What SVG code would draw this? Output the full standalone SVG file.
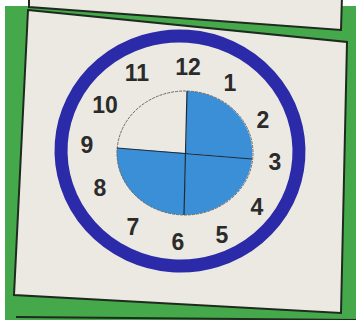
<svg xmlns="http://www.w3.org/2000/svg" width="356" height="320" viewBox="0 0 356 320">
<style>
.num{font-family:"Liberation Sans",Arial,sans-serif;font-weight:bold;font-size:23px;fill:#2b2b2b;text-anchor:middle}
.paper{fill:#ebe9e2;stroke:#1f2a1f;stroke-width:2}
</style>
<rect x="0" y="0" width="356" height="320" fill="#ffffff"/>
<rect x="5" y="6" width="351" height="314" fill="#45a94c"/>
<polygon class="paper" points="29,-4 342,-4 341,30 29,7"/>
<polygon class="paper" points="28,10 347,42 341,313 14,295"/>
<line x1="16" y1="317" x2="356" y2="320" stroke="#1f2a1f" stroke-width="2"/>
<g id="ring">
<ellipse cx="180" cy="151" rx="119" ry="115" fill="none" stroke="#2b2aa8" stroke-width="13" transform="rotate(4 180 151)"/>
</g>
<g id="face">
<path d="M186,153 L187,91 A68,62 0 0 1 252,159 Z" fill="#3b8fd6"/>
<path d="M186,153 L252,159 A68,62 0 0 1 184,215 Z" fill="#3b8fd6"/>
<path d="M186,153 L184,215 A68,62 0 0 1 117,148 Z" fill="#3b8fd6"/>
<ellipse cx="185" cy="153" rx="68" ry="62" fill="none" stroke="#6b6b6b" stroke-width="1" stroke-dasharray="3 1"/>
<line x1="187" y1="91" x2="184" y2="215" stroke="#1d2b3a" stroke-width="1.2"/>
<line x1="117" y1="148" x2="252" y2="159" stroke="#1d2b3a" stroke-width="1.2"/>
</g>
<g id="numbers">
<text class="num" x="188" y="75">12</text>
<text class="num" x="137" y="81">11</text>
<text class="num" x="230" y="91">1</text>
<text class="num" x="105" y="113">10</text>
<text class="num" x="263" y="128">2</text>
<text class="num" x="87" y="153">9</text>
<text class="num" x="275" y="170">3</text>
<text class="num" x="100" y="196">8</text>
<text class="num" x="257" y="215">4</text>
<text class="num" x="133" y="235">7</text>
<text class="num" x="222" y="243">5</text>
<text class="num" x="178" y="250">6</text>
</g>
</svg>
